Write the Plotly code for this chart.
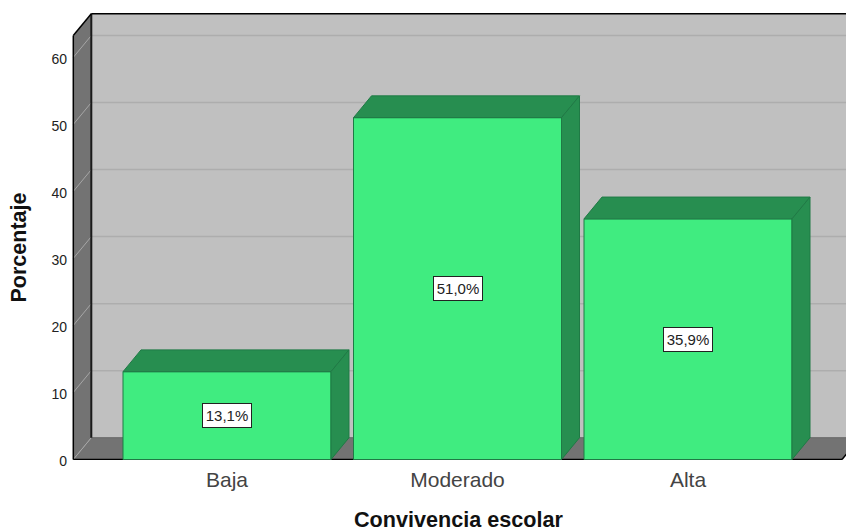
import plotly.graph_objects as go

categories = ["Baja", "Moderado", "Alta"]
percentages = [13.1, 51.0, 35.9]
labels = ["13,1%", "51,0%", "35,9%"]
y_ticks = [0, 10, 20, 30, 40, 50, 60]
x_title = "Convivencia escolar"
y_title = "Porcentaje"

FONT = "Liberation Sans"
FRONT = "#40EC80"
DARK = "#278E50"
EDGE = "#1F7A45"
WALL = "#737373"
BACK = "#C0C0C0"
W, H = 846, 532
L, R, T, B = 70, 0, 10, 72

# scale
PX_PER_CAT = 230.5
PX_PER_UNIT = 6.703
X0_PX = 227.0
Y0_PX = 459.5
bar_w = 208 / PX_PER_CAT
dx = 18 / PX_PER_CAT
dy = 21.8 / PX_PER_UNIT
x_range = [(L - X0_PX) / PX_PER_CAT, (W - R - X0_PX) / PX_PER_CAT]
y_range = [(Y0_PX - (H - B)) / PX_PER_UNIT, (Y0_PX - T) / PX_PER_UNIT]
wall_left = (73.3 - X0_PX) / PX_PER_CAT
floor_right = (842 - X0_PX) / PX_PER_CAT
wall_top = 63.25
xs = list(range(len(categories)))


def path(pts):
    return "M " + " L ".join(f"{a},{b}" for a, b in pts) + " Z"


def poly(pts, fill, line=None, width=0, layer="below"):
    return dict(type="path", path=path(pts), xref="x", yref="y", fillcolor=fill,
                line=dict(color=line or fill, width=width), layer=layer)


def seg(a, b, color, width):
    return dict(type="line", xref="x", yref="y", x0=a[0], y0=a[1], x1=b[0], y1=b[1],
                line=dict(color=color, width=width), layer="below")


shapes = [
    poly([(wall_left + dx, dy), (x_range[1] + dx, dy), (x_range[1] + dx, wall_top + dy),
          (wall_left + dx, wall_top + dy)], BACK),
    poly([(wall_left, 0), (wall_left + dx, dy), (wall_left + dx, wall_top + dy), (wall_left, wall_top)], WALL),
    poly([(wall_left, 0), (floor_right, 0), (floor_right + dx, dy), (x_range[1] + dx, dy), (wall_left + dx, dy)], WALL),
]
for t in y_ticks[1:]:
    shapes.append(seg((wall_left + dx, t + dy), (x_range[1] + dx, t + dy), "#ADADAD", 1.5))
    shapes.append(seg((wall_left, t), (wall_left + dx, t + dy), "#A6A6A6", 1))
shapes += [
    seg((wall_left, 0), (wall_left + dx, dy), "#A6A6A6", 1),
    seg((wall_left + dx, dy), (x_range[1] + dx, dy), "#666666", 1),
    seg((wall_left + dx, dy), (wall_left + dx, wall_top + dy), "#1A1A1A", 2),
    seg((wall_left + dx, wall_top + dy), (x_range[1] + dx, wall_top + dy), "#000000", 1.5),
    seg((wall_left, wall_top), (wall_left + dx, wall_top + dy), "#000000", 1.5),
    seg((wall_left, 0), (wall_left, wall_top), "#000000", 1.5),
    seg((wall_left, 0), (floor_right, 0), "#000000", 1.5),
    seg((floor_right, 0), (floor_right + dx, dy), "#000000", 1.5),
]

fig = go.Figure()
fig.add_trace(go.Bar(x=xs, y=percentages, width=bar_w, marker=dict(color=FRONT, line=dict(color=EDGE, width=1)),
                     showlegend=False, hoverinfo="skip"))
for x, v in zip(xs, percentages):
    l, r = x - bar_w / 2, x + bar_w / 2
    top = [l, r, r + dx, l + dx, l]
    top_y = [v, v, v + dy, v + dy, v]
    side = [r, r + dx, r + dx, r, r]
    side_y = [0, dy, v + dy, v, 0]
    for px, py in ((top, top_y), (side, side_y)):
        fig.add_trace(go.Scatter(x=px, y=py, mode="lines", fill="toself", fillcolor=DARK,
                                 line=dict(color=EDGE, width=1), showlegend=False, hoverinfo="skip"))

annotations = [
    dict(x=x, y=v / 2, text=t, showarrow=False, bgcolor="white", bordercolor="#222222", borderwidth=1,
         width=46, height=21, font=dict(family=FONT, size=15, color="#222222"), xref="x", yref="y")
    for x, v, t in zip(xs, percentages, labels)
]
annotations.append(dict(
    x=(18 - L) / (W - L - R), y=(H - B - 247.5) / (H - T - B), xref="paper", yref="paper",
    xanchor="center", yanchor="middle", text=f"<b>{y_title}</b>", textangle=-90, showarrow=False,
    font=dict(family=FONT, size=21.5, color="#111111")))
annotations.append(dict(
    x=0.5, y=(H - B - 519) / (H - T - B), xref="paper", yref="paper",
    xanchor="center", yanchor="middle", text=f"<b>{x_title}</b>", showarrow=False,
    font=dict(family=FONT, size=21.6, color="#111111")))

fig.update_layout(
    width=W, height=H, autosize=False,
    margin=dict(l=L, r=R, t=T, b=B, pad=0, autoexpand=False),
    paper_bgcolor="white", plot_bgcolor="white",
    shapes=shapes, annotations=annotations, showlegend=False,
    font=dict(family=FONT, color="#222222"),
    xaxis=dict(range=x_range, tickmode="array", tickvals=xs, ticktext=categories, showgrid=False, zeroline=False,
               showline=False, ticks="", ticklabelstandoff=5, tickfont=dict(family=FONT, size=21, color="#444444")),
    yaxis=dict(range=y_range, tickmode="array", tickvals=y_ticks, showgrid=False, zeroline=False,
               showline=False, ticks="", ticklabelstandoff=2, ticklabelshift=2,
               tickfont=dict(family=FONT, size=14, color="#222222")),
)
fig.write_html("out.html", config=dict(displayModeBar=False),
               post_script="document.body.style.margin='0';document.documentElement.style.overflow='hidden';")
